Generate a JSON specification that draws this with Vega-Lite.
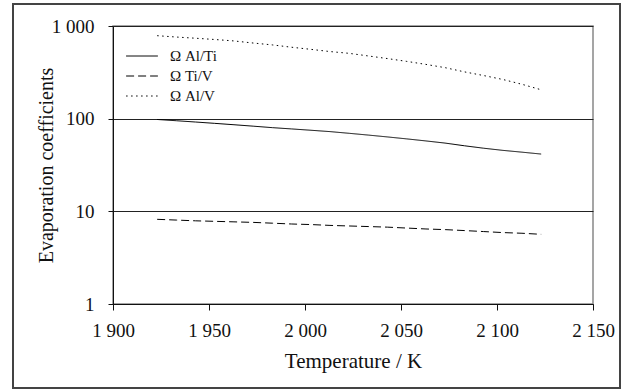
{
  "$schema": "https://vega.github.io/schema/vega-lite/v6.json",
  "width": 480,
  "height": 278,
  "autosize": "none",
  "padding": {"left": 113, "top": 26, "right": 31, "bottom": 86},
  "background": "white",
  "config": {
    "font": "Liberation Serif",
    "view": {"stroke": "#888", "strokeWidth": 1.5},
    "axis": {"labelFont": "Liberation Serif", "titleFont": "Liberation Serif", "labelColor": "#111", "titleColor": "#111", "titleFontWeight": "normal", "domainColor": "#111", "tickColor": "#111"},
    "legend": {"labelFont": "Liberation Serif"}
  },
  "data": {"values": [
    {"T": 1923, "series": "Ω Al/Ti", "v": 98},
    {"T": 1933, "series": "Ω Al/Ti", "v": 95},
    {"T": 1943, "series": "Ω Al/Ti", "v": 92},
    {"T": 1953, "series": "Ω Al/Ti", "v": 89},
    {"T": 1963, "series": "Ω Al/Ti", "v": 86},
    {"T": 1973, "series": "Ω Al/Ti", "v": 83},
    {"T": 1983, "series": "Ω Al/Ti", "v": 80},
    {"T": 1993, "series": "Ω Al/Ti", "v": 77.5},
    {"T": 2003, "series": "Ω Al/Ti", "v": 75},
    {"T": 2013, "series": "Ω Al/Ti", "v": 72.5},
    {"T": 2023, "series": "Ω Al/Ti", "v": 69.5},
    {"T": 2033, "series": "Ω Al/Ti", "v": 66.5},
    {"T": 2043, "series": "Ω Al/Ti", "v": 63.5},
    {"T": 2053, "series": "Ω Al/Ti", "v": 60.5},
    {"T": 2063, "series": "Ω Al/Ti", "v": 57.5},
    {"T": 2073, "series": "Ω Al/Ti", "v": 54.5},
    {"T": 2083, "series": "Ω Al/Ti", "v": 51},
    {"T": 2093, "series": "Ω Al/Ti", "v": 48},
    {"T": 2103, "series": "Ω Al/Ti", "v": 45.5},
    {"T": 2113, "series": "Ω Al/Ti", "v": 43.5},
    {"T": 2123, "series": "Ω Al/Ti", "v": 41.5},
    {"T": 1923, "series": "Ω Ti/V", "v": 8.2},
    {"T": 1933, "series": "Ω Ti/V", "v": 8.05},
    {"T": 1943, "series": "Ω Ti/V", "v": 7.9},
    {"T": 1953, "series": "Ω Ti/V", "v": 7.8},
    {"T": 1963, "series": "Ω Ti/V", "v": 7.7},
    {"T": 1973, "series": "Ω Ti/V", "v": 7.6},
    {"T": 1983, "series": "Ω Ti/V", "v": 7.45},
    {"T": 1993, "series": "Ω Ti/V", "v": 7.3},
    {"T": 2003, "series": "Ω Ti/V", "v": 7.2},
    {"T": 2013, "series": "Ω Ti/V", "v": 7.05},
    {"T": 2023, "series": "Ω Ti/V", "v": 6.95},
    {"T": 2033, "series": "Ω Ti/V", "v": 6.85},
    {"T": 2043, "series": "Ω Ti/V", "v": 6.75},
    {"T": 2053, "series": "Ω Ti/V", "v": 6.6},
    {"T": 2063, "series": "Ω Ti/V", "v": 6.45},
    {"T": 2073, "series": "Ω Ti/V", "v": 6.35},
    {"T": 2083, "series": "Ω Ti/V", "v": 6.2},
    {"T": 2093, "series": "Ω Ti/V", "v": 6.05},
    {"T": 2103, "series": "Ω Ti/V", "v": 5.9},
    {"T": 2113, "series": "Ω Ti/V", "v": 5.8},
    {"T": 2123, "series": "Ω Ti/V", "v": 5.65},
    {"T": 1923, "series": "Ω Al/V", "v": 786},
    {"T": 1933, "series": "Ω Al/V", "v": 760},
    {"T": 1943, "series": "Ω Al/V", "v": 738},
    {"T": 1953, "series": "Ω Al/V", "v": 715},
    {"T": 1963, "series": "Ω Al/V", "v": 690},
    {"T": 1973, "series": "Ω Al/V", "v": 655},
    {"T": 1983, "series": "Ω Al/V", "v": 625},
    {"T": 1993, "series": "Ω Al/V", "v": 590},
    {"T": 2003, "series": "Ω Al/V", "v": 560},
    {"T": 2013, "series": "Ω Al/V", "v": 530},
    {"T": 2023, "series": "Ω Al/V", "v": 507},
    {"T": 2033, "series": "Ω Al/V", "v": 475},
    {"T": 2043, "series": "Ω Al/V", "v": 445},
    {"T": 2053, "series": "Ω Al/V", "v": 415},
    {"T": 2063, "series": "Ω Al/V", "v": 385},
    {"T": 2073, "series": "Ω Al/V", "v": 355},
    {"T": 2083, "series": "Ω Al/V", "v": 320},
    {"T": 2093, "series": "Ω Al/V", "v": 292},
    {"T": 2103, "series": "Ω Al/V", "v": 265},
    {"T": 2113, "series": "Ω Al/V", "v": 235},
    {"T": 2123, "series": "Ω Al/V", "v": 205}
  ]},
  "layer": [
    {
      "mark": {"type": "rect", "fill": null, "stroke": "#444", "strokeWidth": 1.2, "clip": false},
      "encoding": {
        "x": {"datum": 1848, "type": "quantitative", "scale": {"domain": [1900, 2150]}},
        "x2": {"datum": 2164},
        "y": {"datum": 1727, "type": "quantitative", "scale": {"type": "log", "domain": [1, 1000]}},
        "y2": {"datum": 0.124}
      }
    },
    {
      "mark": {"type": "line", "color": "black", "strokeWidth": 1},
      "encoding": {
        "x": {
          "field": "T", "type": "quantitative",
          "scale": {"domain": [1900, 2150], "nice": false, "zero": false},
          "axis": {
            "title": "Temperature / K", "titleFontSize": 21, "titlePadding": 10,
            "values": [1900, 1950, 2000, 2050, 2100, 2150],
            "labelExpr": "replace(format(datum.value, ','), ',', ' ')",
            "labelFontSize": 19, "labelPadding": 11, "tickSize": 6,
            "grid": false, "labelFlush": false
          }
        },
        "y": {
          "field": "v", "type": "quantitative",
          "scale": {"type": "log", "domain": [1, 1000], "nice": false},
          "axis": {
            "title": "Evaporation coefficients", "titleFontSize": 20, "titlePadding": -5,
            "values": [1, 10, 100, 1000],
            "labelExpr": "replace(format(datum.value, ','), ',', ' ')",
            "labelFontSize": 19, "labelPadding": 14, "tickSize": 5,
            "grid": true, "gridColor": "#222", "gridOpacity": 1, "gridWidth": 1,
            "labelFlush": false
          }
        },
        "strokeDash": {
          "field": "series", "type": "nominal",
          "scale": {"domain": ["Ω Al/Ti", "Ω Ti/V", "Ω Al/V"], "range": [[1, 0], [8, 4], [1.5, 3.5]]},
          "legend": {
            "title": null, "orient": "none", "legendX": 19, "legendY": 20,
            "symbolType": "M-1.7,0H1.7", "symbolSize": 350, "symbolStrokeColor": "black", "symbolStrokeWidth": 1,
            "labelFontSize": 15, "labelColor": "#111", "rowPadding": 2, "labelOffset": 18
          }
        }
      }
    }
  ]
}
